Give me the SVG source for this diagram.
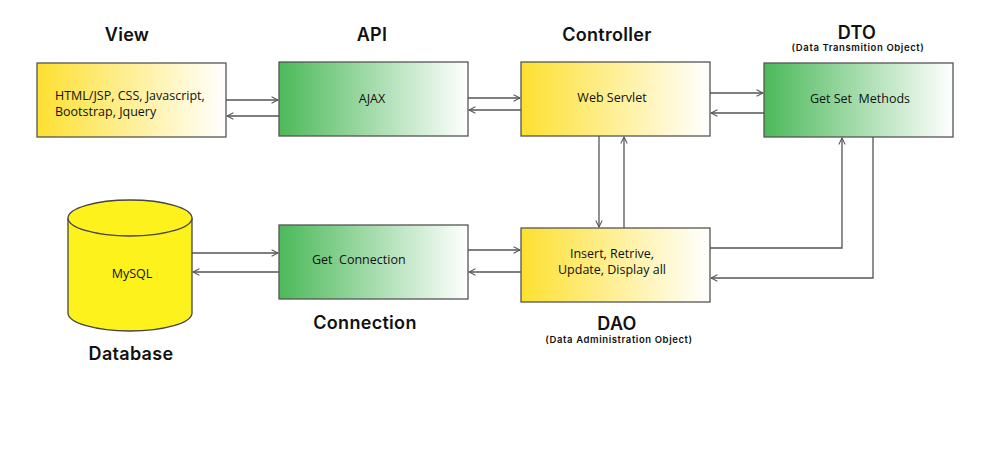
<svg xmlns="http://www.w3.org/2000/svg" width="1004" height="451" viewBox="0 0 1004 451">
<defs>
<linearGradient id="gy" x1="0" y1="0" x2="1" y2="0">
<stop offset="0" stop-color="#fde031"/>
<stop offset="1" stop-color="#ffffff"/>
</linearGradient>
<linearGradient id="gg" x1="0" y1="0" x2="1" y2="0">
<stop offset="0" stop-color="#4cb95a"/>
<stop offset="1" stop-color="#ffffff"/>
</linearGradient>
<marker id="ah" viewBox="0 0 10 10" refX="9" refY="5" markerWidth="8" markerHeight="8" markerUnits="userSpaceOnUse" orient="auto">
<path d="M1,1 L9,5 L1,9" fill="none" stroke="#555" stroke-width="1.3"/>
</marker>
</defs>
<style>
.box{stroke:#555;stroke-width:1.3}
.t{font-family:"Open Sans","Liberation Sans",sans-serif;font-size:12.5px;fill:#111;text-anchor:middle}
.h{font-family:"Inter","Open Sans","Liberation Sans",sans-serif;font-size:18px;font-weight:600;letter-spacing:0.3px;fill:#111;text-anchor:middle}
.s{font-family:"Inter","Open Sans","Liberation Sans",sans-serif;font-size:9.5px;font-weight:600;letter-spacing:0.6px;fill:#111;text-anchor:middle}
.c{fill:none;stroke:#555;stroke-width:1.3}
</style>
<rect width="1004" height="451" fill="#ffffff"/>

<g id="view">
<text class="h" x="127" y="41">View</text>
<rect class="box" x="37" y="63" width="189" height="74" fill="url(#gy)"/>
<text class="t" x="55" y="100" style="text-anchor:start">HTML/JSP, CSS, Javascript,</text>
<text class="t" x="55" y="116" style="text-anchor:start">Bootstrap, Jquery</text>
</g>

<g id="api">
<text class="h" x="372" y="41">API</text>
<rect class="box" x="279" y="62" width="189" height="74" fill="url(#gg)"/>
<text class="t" x="372" y="103">AJAX</text>
</g>

<g id="controller">
<text class="h" x="607" y="41">Controller</text>
<rect class="box" x="521" y="62" width="189" height="74" fill="url(#gy)"/>
<text class="t" x="612" y="102">Web Servlet</text>
</g>

<g id="dto">
<text class="h" x="857" y="39">DTO</text>
<text class="s" x="858" y="51">(Data Transmition Object)</text>
<rect class="box" x="764" y="63" width="189" height="74" fill="url(#gg)"/>
<text class="t" x="860" y="103" style="white-space:pre">Get Set  Methods</text>
</g>

<g id="database">
<path d="M68,218 L68,313 A62,18 0 0 0 192,313 L192,218" fill="#fdf21c" stroke="#444" stroke-width="1.3"/>
<ellipse cx="130" cy="218" rx="62" ry="18" fill="#fdf21c" stroke="#444" stroke-width="1.3"/>
<text class="t" x="132" y="278">MySQL</text>
<text class="h" x="131" y="360">Database</text>
</g>

<g id="connection">
<rect class="box" x="279" y="225" width="189" height="74" fill="url(#gg)"/>
<text class="t" x="312" y="264" style="text-anchor:start;white-space:pre">Get  Connection</text>
<text class="h" x="365" y="329">Connection</text>
</g>

<g id="dao">
<rect class="box" x="521" y="228" width="189" height="74" fill="url(#gy)"/>
<text class="t" x="612" y="258">Insert, Retrive,</text>
<text class="t" x="612" y="274">Update, Display all</text>
<text class="h" x="617" y="330">DAO</text>
<text class="s" x="619" y="343">(Data Administration Object)</text>
</g>

<g id="connectors">
<line class="c" x1="226" y1="100" x2="278" y2="100" marker-end="url(#ah)"/>
<line class="c" x1="279" y1="116" x2="227" y2="116" marker-end="url(#ah)"/>
<line class="c" x1="468" y1="98" x2="520" y2="98" marker-end="url(#ah)"/>
<line class="c" x1="521" y1="110" x2="469" y2="110" marker-end="url(#ah)"/>
<line class="c" x1="710" y1="93" x2="763" y2="93" marker-end="url(#ah)"/>
<line class="c" x1="764" y1="113" x2="711" y2="113" marker-end="url(#ah)"/>
<line class="c" x1="599" y1="136" x2="599" y2="227" marker-end="url(#ah)"/>
<line class="c" x1="624" y1="228" x2="624" y2="137" marker-end="url(#ah)"/>
<polyline class="c" points="710,248 842,248 842,138" marker-end="url(#ah)"/>
<polyline class="c" points="873,137 873,278 711,278" marker-end="url(#ah)"/>
<line class="c" x1="192" y1="253" x2="278" y2="253" marker-end="url(#ah)"/>
<line class="c" x1="279" y1="272" x2="193" y2="272" marker-end="url(#ah)"/>
<line class="c" x1="468" y1="250" x2="520" y2="250" marker-end="url(#ah)"/>
<line class="c" x1="521" y1="272" x2="469" y2="272" marker-end="url(#ah)"/>
</g>
</svg>
